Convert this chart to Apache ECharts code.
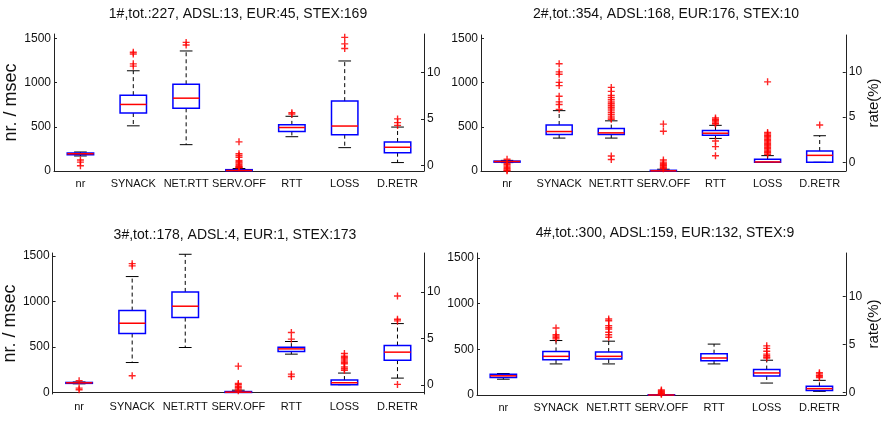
<!DOCTYPE html>
<html lang="en" style="height: 100%">
<head>
  <meta charset="utf-8">
</head>
<body style="height: 100%; margin: 0">
<div id="container" style="height: 100%"></div>

<script type="text/javascript" src="https://fastly.jsdelivr.net/npm/echarts@6/dist/echarts.min.js"></script>
<script type="text/javascript">
  // categories: first five in msec (left axis), last two in % (right axis)
  var categories = ['nr', 'SYNACK', 'NET.RTT', 'SERV.OFF', 'RTT', 'LOSS', 'D.RETR'];
  var titles = [
    '1#,tot.:227, ADSL:13, EUR:45, STEX:169',
    '2#,tot.:354, ADSL:168, EUR:176, STEX:10',
    '3#,tot.:178, ADSL:4, EUR:1, STEX:173',
    '4#,tot.:300, ADSL:159, EUR:132, STEX:9'
  ];
  var leftTicks = [0, 500, 1000, 1500];
  var rightTicks = [0, 5, 10];

  // [min, q1, median, q3, max] per category
  var boxes1 = [
    [170, 185, 195, 203, 215],
    [511, 656, 753, 858, 1134],
    [298, 709, 824, 981, 1358],
    [0, 2, 5, 15, 28],
    [388, 448, 492, 522, 619],
    [1.9, 3.3, 4.23, 6.92, 11.25],
    [0.29, 1.36, 1.94, 2.51, 4.12]
  ];
  var outliers1 = [
    [125, 100, 60],
    [1343, 1324, 1212, 1186],
    [1455, 1425],
    [330, 195, 175, 155, 120, 105, 90, 75, 60, 50, 42, 36],
    [660, 645],
    [13.8, 13.1, 12.6],
    [5.0, 4.6, 4.3]
  ];

  var boxes2 = [
    [95, 100, 107, 112, 120],
    [372, 413, 446, 520, 682],
    [372, 413, 431, 479, 567],
    [0, 0, 2, 8, 20],
    [368, 405, 427, 457, 516],
    [0, 0, 0.04, 0.33, 0.74],
    [0, 0, 0.77, 1.25, 2.94]
  ];
  var outliers2 = [
    [133, 85, 70, 55, 40, 25, 12, 3],
    [1212, 1120, 1094, 1002, 965, 844, 781, 752, 697],
    [945, 900, 855, 830, 805, 780, 760, 740, 720, 700, 680, 660, 640, 620, 600, 585, 170, 130],
    [530, 450, 125, 100, 85, 70, 60, 45, 35, 25],
    [600, 585, 570, 555, 540, 530, 339, 276, 173],
    [8.9, 3.3, 3.15, 3.0, 2.85, 2.7, 2.55, 2.4, 2.25, 2.1, 1.95, 1.8, 1.65, 1.5, 1.35, 1.2, 1.05, 0.9],
    [4.12]
  ];

  var boxes3 = [
    [95, 100, 106, 110, 115],
    [329, 648, 761, 900, 1274],
    [494, 823, 948, 1105, 1519],
    [0, 0, 3, 10, 25],
    [421, 450, 479, 498, 560],
    [0.04, 0.04, 0.25, 0.54, 1.29],
    [0.75, 2.68, 3.54, 4.25, 6.61]
  ];
  var outliers3 = [
    [128, 48, 30],
    [1416, 1391, 183],
    [],
    [289, 99, 84, 66, 51, 37, 18],
    [659, 586, 201, 176],
    [3.4, 3.1, 2.95, 2.8, 2.6, 2.45, 2.3, 1.95, 1.75, 1.6],
    [9.57, 7.07, 6.9, 0.07]
  ];

  var boxes4 = [
    [173, 192, 210, 228, 235],
    [340, 387, 423, 477, 596],
    [340, 394, 423, 470, 589],
    [0, 0, 0, 3, 5],
    [340, 376, 405, 452, 557],
    [1.0, 1.74, 2.05, 2.40, 3.37],
    [0.14, 0.24, 0.42, 0.66, 1.28]
  ];
  var outliers4 = [
    [],
    [734, 661, 645, 630, 614],
    [831, 813, 759, 740, 723, 687, 660, 632],
    [55, 45, 35, 25, 15, 8],
    [],
    [4.86, 4.6, 4.3, 4.0, 3.85, 3.7, 3.6],
    [2.08, 1.95, 1.8, 1.7, 1.56]
  ];

  var allBoxes = [boxes1, boxes2, boxes3, boxes4];
  var allOutliers = [outliers1, outliers2, outliers3, outliers4];

  var font = "'Liberation Sans', Arial, sans-serif";

  // panel layout and axis ranges
  var grids = [
    { left: 54, top: 34, width: 370, height: 137 },
    { left: 481, top: 35, width: 373, height: 136 },
    { left: 52, top: 253, width: 372, height: 141 },
    { left: 477, top: 253, width: 378, height: 142 }
  ];
  var leftRange = [[0, 1550], [0, 1537], [-17, 1533], [0, 1554]];
  var rightRange = [[-0.62, 14.16], [-0.96, 14.08], [-0.96, 14.2], [-0.24, 14.5]];
  var titlePos = [[238, 7], [666, 7], [235, 228], [665, 226]];

  var dom = document.getElementById('container');
  var myChart = echarts.init(dom, null, {
    renderer: 'canvas',
    useDirtyRect: false
  });

  function renderBox(params, api) {
    var x = api.value(0);
    var lo = api.coord([x, api.value(1)]);
    var q1 = api.coord([x, api.value(2)]);
    var md = api.coord([x, api.value(3)]);
    var q3 = api.coord([x, api.value(4)]);
    var hi = api.coord([x, api.value(5)]);
    var band = api.size([1, 0])[0];
    var bw = band * 0.25;
    var cw = band * 0.12;
    var cx = q1[0];
    var dash = { stroke: '#000', lineWidth: 1, lineDash: [4, 3] };
    var solid = { stroke: '#000', lineWidth: 1 };
    return {
      type: 'group',
      children: [
        { type: 'line', shape: { x1: cx, y1: q3[1], x2: cx, y2: hi[1] }, style: dash },
        { type: 'line', shape: { x1: cx, y1: q1[1], x2: cx, y2: lo[1] }, style: dash },
        { type: 'line', shape: { x1: cx - cw, y1: hi[1], x2: cx + cw, y2: hi[1] }, style: solid },
        { type: 'line', shape: { x1: cx - cw, y1: lo[1], x2: cx + cw, y2: lo[1] }, style: solid },
        {
          type: 'rect',
          shape: { x: cx - bw, y: q3[1], width: 2 * bw, height: q1[1] - q3[1] },
          style: { fill: 'none', stroke: '#0000ff', lineWidth: 1.5 }
        },
        {
          type: 'line',
          shape: { x1: cx - bw, y1: md[1], x2: cx + bw, y2: md[1] },
          style: { stroke: '#ff0000', lineWidth: 1.5 }
        }
      ]
    };
  }

  function plainNumber(v) {
    return String(v);
  }

  // thin '+' marker for outliers
  var plusSymbol = 'path://M4,0h2v4h4v2h-4v4h-2v-4h-4v-2h4z';

  var option = {
    animation: false,
    backgroundColor: '#fff',
    title: [],
    grid: [],
    xAxis: [],
    yAxis: [],
    series: []
  };

  for (var p = 0; p < 4; p++) {
    option.grid.push(grids[p]);
    option.title.push({
      text: titles[p],
      left: titlePos[p][0],
      top: titlePos[p][1],
      textAlign: 'center',
      padding: 0,
      textStyle: { fontFamily: font, fontSize: 14, fontWeight: 'normal', color: '#111' }
    });
    option.xAxis.push({
      type: 'category',
      gridIndex: p,
      data: categories,
      boundaryGap: true,
      axisLine: { lineStyle: { color: '#222', width: 1 } },
      axisTick: { inside: true, length: 3, alignWithLabel: true, lineStyle: { color: '#222' } },
      axisLabel: { interval: 0, margin: 7, fontFamily: font, fontSize: 11, color: '#111' },
      splitLine: { show: false }
    });
    option.yAxis.push({
      type: 'value',
      gridIndex: p,
      position: 'left',
      min: leftRange[p][0],
      max: leftRange[p][1],
      name: p % 2 === 0 ? 'nr. / msec' : '',
      nameLocation: 'middle',
      nameGap: 30,
      nameTextStyle: { fontFamily: font, fontSize: 18, color: '#111' },
      axisLine: { show: true, lineStyle: { color: '#222', width: 1 } },
      axisTick: { show: true, inside: true, length: 3, customValues: leftTicks, lineStyle: { color: '#222' } },
      axisLabel: { customValues: leftTicks, formatter: plainNumber, margin: 3, fontFamily: font, fontSize: 12, color: '#111' },
      splitLine: { show: false }
    });
    option.yAxis.push({
      type: 'value',
      gridIndex: p,
      position: 'right',
      min: rightRange[p][0],
      max: rightRange[p][1],
      name: p % 2 === 1 ? 'rate(%)' : '',
      nameLocation: 'middle',
      nameRotate: 90,
      nameGap: 18,
      nameTextStyle: { fontFamily: font, fontSize: 15, color: '#111' },
      axisLine: { show: true, lineStyle: { color: '#222', width: 1 } },
      axisTick: { show: true, inside: true, length: 3, customValues: rightTicks, lineStyle: { color: '#222' } },
      axisLabel: { customValues: rightTicks, formatter: plainNumber, margin: 3, fontFamily: font, fontSize: 12, color: '#111' },
      splitLine: { show: false }
    });

    var leftBoxes = [], rightBoxes = [], leftOut = [], rightOut = [];
    for (var c = 0; c < categories.length; c++) {
      var row = [c].concat(allBoxes[p][c]);
      var pts = allOutliers[p][c].map(function (v) { return [c, v]; });
      if (c < 5) {
        leftBoxes.push(row);
        leftOut = leftOut.concat(pts);
      } else {
        rightBoxes.push(row);
        rightOut = rightOut.concat(pts);
      }
    }

    option.series.push({
      type: 'custom',
      xAxisIndex: p,
      yAxisIndex: 2 * p,
      renderItem: renderBox,
      encode: { x: 0, y: [1, 2, 3, 4, 5] },
      data: leftBoxes,
      z: 2
    });
    option.series.push({
      type: 'custom',
      xAxisIndex: p,
      yAxisIndex: 2 * p + 1,
      renderItem: renderBox,
      encode: { x: 0, y: [1, 2, 3, 4, 5] },
      data: rightBoxes,
      z: 2
    });
    option.series.push({
      type: 'scatter',
      xAxisIndex: p,
      yAxisIndex: 2 * p,
      symbol: plusSymbol,
      symbolSize: 7,
      itemStyle: { color: '#ff0000', opacity: 0.85 },
      data: leftOut,
      z: 3
    });
    option.series.push({
      type: 'scatter',
      xAxisIndex: p,
      yAxisIndex: 2 * p + 1,
      symbol: plusSymbol,
      symbolSize: 7,
      itemStyle: { color: '#ff0000', opacity: 0.85 },
      data: rightOut,
      z: 3
    });
  }

  if (option && typeof option === 'object') {
    myChart.setOption(option);
  }

  window.addEventListener('resize', myChart.resize);
</script>
</body>
</html>
